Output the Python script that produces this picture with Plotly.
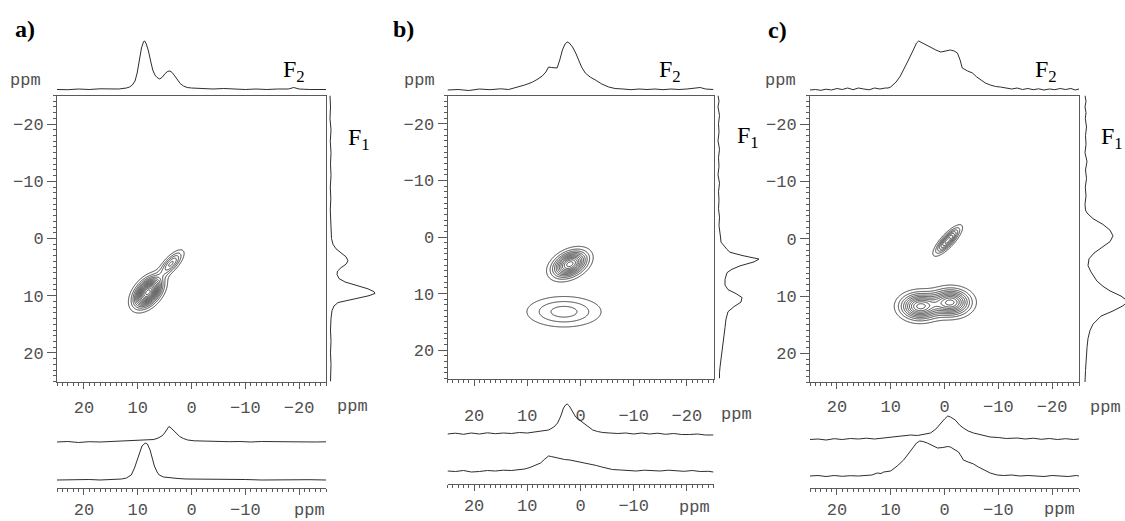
import numpy as np
import plotly.graph_objects as go

# ----------------------------------------------------------------- data
# 1-D traces, (ppm, intensity) pairs (arbitrary units)
a_top = [(25, 0.5), (23, 0.3), (21, 1), (19, 0.5), (17, 1.2), (15, 1.5), (13.5, 1), (12.1, 2),
         (11.5, 3), (11, 5), (10.5, 9), (10.1, 17), (9.7, 30), (9.3, 42), (8.9, 48.5), (8.7, 49),
         (8.4, 46), (8.0, 39), (7.6, 29), (7.2, 20), (6.8, 15), (6.4, 12.5), (5.9, 11), (5.4, 13),
         (4.9, 16.5), (4.4, 18.7), (4.0, 19), (3.6, 17.5), (3.1, 14), (2.6, 10), (2.1, 6.5),
         (1.5, 4), (0.8, 2.5), (0, 2), (-2, 1.5), (-4, 1), (-6, 1.5), (-8, 1), (-10, 0.5),
         (-12, 1), (-14, 0.5), (-16, 1), (-18, 1), (-19, 2.5), (-20, 1), (-22, 0.5), (-24, 1),
         (-25, 0.5)]
a_f1 = [(-25, 0), (-23, 0.5), (-21, 0), (-19, 1), (-17, 0.3), (-15, 1), (-13, 0.5), (-11, 1),
        (-9, 0.3), (-7, 0.8), (-5, 0.3), (-3, 1), (-1, 1), (0, 1.5), (1, 3), (1.8, 6), (2.5, 11),
        (3.2, 16), (3.9, 18), (4.5, 16), (5.1, 11), (5.7, 7.5), (6.3, 7), (7, 9), (7.6, 15),
        (8.2, 26), (8.8, 38), (9.3, 44), (9.6, 45), (10, 39), (10.4, 28), (10.8, 16), (11.2, 8),
        (11.8, 4), (12.6, 2), (14, 1), (16, 0.5), (18, 1), (20, 0.5), (22, 1), (24, 0.3), (25, 0.5)]
a_slice_upper = [(25, 0), (23, 0.5), (21, -0.5), (19, 0.3), (17, 0), (15, 0.5), (13, 0.3), (11, 1),
                 (9.5, 1.5), (8.2, 2), (7, 2.5), (6.2, 4), (5.5, 6), (5, 9), (4.6, 13), (4.2, 15.5),
                 (3.8, 14), (3.3, 11), (2.8, 8.5), (2.2, 5.5), (1.5, 3.5), (0.7, 2), (-0.5, 1.2),
                 (-1.5, 1), (-3, 0.5), (-5, 0.8), (-7, 0.3), (-9, 0.5), (-11, 0), (-13, 0.5),
                 (-15, 0.3), (-17, 0), (-19, 0.5), (-21, 0.2), (-23, 0), (-25, 0.2)]
a_slice_lower = [(25, 0), (23, 0.3), (21, 0), (19, 0.5), (17, 0), (15, 0.5), (13, 1), (12.1, 2),
                 (11.2, 5), (10.6, 12), (10.1, 20), (9.7, 28), (9.2, 34), (8.6, 37), (8.2, 36),
                 (7.7, 30), (7.3, 22), (6.9, 14), (6.4, 8), (6, 5), (5.2, 3), (4, 2), (2.5, 1.5),
                 (1, 1), (-1.5, 1), (-4, 0.5), (-7, 0.3), (-10, 0.5), (-13, 0), (-16, 0.3),
                 (-19, 0), (-22, 0.3), (-25, 0)]

b_top = [(25, 0), (23, 0.5), (21, -0.5), (19, 1), (17, 0.3), (15, 1.2), (13.5, 0.5), (12.3, 2),
         (11.3, 3.5), (10.5, 5), (9.7, 6.5), (9, 8), (8, 11), (7.2, 14), (6.5, 18), (6, 23),
         (5.5, 22.5), (5, 22), (4.4, 22), (3.9, 30), (3.4, 40), (2.9, 46), (2.5, 48), (2.1, 47),
         (1.5, 43), (0.9, 37), (0.4, 30), (-0.2, 23), (-0.9, 17), (-1.8, 13), (-2.8, 10),
         (-4, 6), (-5.3, 3), (-6.5, 1.5), (-8, 1), (-9.5, 0.3), (-11, 1), (-12.5, 0.5), (-14, 1),
         (-15.5, 0.3), (-17, 1), (-18.5, 0.5), (-20, 1), (-21.5, 1.5), (-22.5, 2.5),
         (-23.5, 1), (-25, 0.5)]
b_f1 = [(-25, 0), (-24, 1), (-23, 0), (-21.5, 1.5), (-20, 0.5), (-18.5, 1), (-17, 0),
        (-15.5, 1.5), (-14, 0.5), (-12.5, 1), (-11, 0), (-9.5, 1.5), (-8, 0.5), (-6.5, 1),
        (-5, 0.5), (-3.5, 1.5), (-2, 1), (-1, 2), (0, 2.5), (0.9, 3), (1.6, 6), (2.2, 9),
        (2.7, 12), (3.3, 25), (3.9, 41), (4.4, 36), (5.1, 22), (5.7, 14), (6.3, 9), (7.5, 7),
        (8.5, 7), (9.3, 10), (10, 18), (10.7, 24), (11.5, 23), (12.3, 16), (13.2, 10),
        (14.5, 8), (16, 7), (17.3, 6), (18.4, 5), (19.5, 4.5), (21, 3.5), (22, 2.5), (23, 2),
        (24, 1.5), (25, 1.5)]
b_slice_upper = [(25, 0), (23.5, 0.8), (22, -0.3), (20.5, 1), (19, 0), (17.5, 1.2), (16, 0.3),
                 (14.5, 1), (13, 0.5), (11.5, 1.5), (10, 1), (8.5, 2), (7.2, 3), (6, 4), (5, 7),
                 (4.3, 11), (3.7, 18), (3.2, 26), (2.8, 29), (2.5, 30), (2.1, 28), (1.6, 23),
                 (0.9, 17), (0.2, 14), (-0.6, 11), (-1.5, 7), (-2.3, 4), (-3.2, 2.5), (-4.2, 1.5),
                 (-5.5, 1), (-7, 0.5), (-8.5, 1), (-10, 0), (-11.5, 1), (-13, 0), (-14.5, 0.8),
                 (-16, -0.3), (-17.5, 0.5), (-19, -0.5), (-20.5, -0.5), (-22, 0), (-23.5, -1),
                 (-25, -1)]
b_slice_lower = [(25, 0), (23.5, -0.5), (22, 0.5), (20.5, -1), (19, -0.5), (17.5, 0.5), (16, 0),
                 (14.5, 0.8), (13, 0.5), (11.5, 1), (10.5, 2), (9.5, 3.5), (8.5, 5.5), (7.5, 8),
                 (6.7, 12), (6, 15), (5.5, 14.5), (4.8, 13.5), (4, 12.5), (3, 11.5), (2, 11),
                 (1, 10), (0, 9), (-1, 8), (-2, 7), (-3, 5.5), (-4, 4), (-5, 2.5), (-6, 1.5),
                 (-7.5, 1), (-9, 0.5), (-10.5, 0), (-12, 0.8), (-13.5, 0.3), (-15, 0),
                 (-16.5, 0.8), (-18, 0), (-19.5, -0.3), (-21, 0.5), (-22.5, -0.5), (-24, -0.3),
                 (-25, -1)]

c_top = [(25, 0), (24, 0.5), (23, -0.3), (22, 0.8), (21, 0), (20, 1.5), (19, 0.5), (18, 2),
         (17, 0.3), (16, 2), (15, 1), (14, 0.2), (13, 2), (12, 1), (11, 2), (10.5, 2), (10, 3),
         (9, 8), (8.2, 14), (7.6, 20), (6.7, 30), (5.8, 40), (5.2, 47), (4.8, 49), (4.3, 47.5),
         (3.8, 46), (3.2, 44), (2.6, 43), (1.6, 40), (0.7, 38), (-0.2, 39), (-1.1, 40),
         (-1.8, 39), (-2.4, 37), (-2.9, 30), (-3.3, 22), (-4.3, 19), (-5.2, 17), (-6, 13),
         (-6.7, 10), (-7.6, 7), (-8.5, 5), (-9.5, 3.5), (-10.4, 3), (-11.5, 2), (-12.5, 1),
         (-13.5, 2), (-14.5, 0.5), (-15.5, 1.5), (-16.5, 0.3), (-17.5, 1.2), (-18.5, 0),
         (-19.5, 1), (-20.5, 0.3), (-21.5, 1.5), (-22.5, 0.5), (-23.5, 1.5), (-24.3, 0),
         (-25, 1)]
c_f1 = [(-25, 0), (-24, 1), (-23, 0), (-22, 1), (-21, 0.3), (-19.5, 1.5), (-18, 0.5),
        (-16.5, 1), (-15, 0), (-13.5, 2), (-12, 0.5), (-10.5, 1.5), (-9, 0.3), (-7.5, 1),
        (-6, 0), (-5, 0.5), (-4.5, 2), (-3.5, 8), (-2.5, 18), (-1.5, 25), (-0.5, 28), (0.5, 25),
        (1.5, 17), (2.5, 9), (3.5, 4), (4.7, 3), (5.8, 6), (7.4, 12), (8.3, 18), (9.1, 25),
        (10, 36), (10.9, 43), (11.7, 38), (12.6, 28), (13.5, 16), (14.9, 8), (16, 5),
        (17.4, 3), (19, 2), (21, 1), (23, 0.5), (25, 0)]
c_slice_upper = [(25, -0.5), (23.5, 0), (22, -1), (20.5, 0.3), (19, -0.5), (17.5, 0.5), (16, 0),
                 (14.5, 0.8), (13, 0), (11.3, 1), (10, 2), (8.5, 2.5), (7.2, 3.5), (6.3, 4),
                 (5, 3.5), (3.8, 4.5), (2.6, 6), (1.6, 10), (0.7, 16), (0, 20), (-0.6, 23),
                 (-1.1, 22), (-2, 19), (-2.8, 14), (-3.5, 11), (-4.4, 8), (-5.4, 6), (-6.8, 4),
                 (-8.5, 2), (-10, 1.5), (-11.5, 0.5), (-13.5, 1), (-15, 0), (-16.5, 0.8),
                 (-18, -0.3), (-19.5, 0.5), (-21, -0.5), (-22.5, 0.3), (-24, -0.5), (-25, 0)]
c_slice_lower = [(25, 0), (23.5, 0.5), (22, -0.5), (20.5, 0.5), (19, -0.3), (17.5, 0.3), (16, 0),
                 (14.5, 0.5), (13.5, 1), (12.5, 3), (11.8, 2.5), (11.3, 4), (10, 5), (8.8, 10),
                 (7.6, 16), (6.6, 23), (5.8, 29), (5.2, 33), (4.6, 35), (4, 34.5), (3.2, 33),
                 (2.2, 30), (1.3, 28), (0.3, 28.5), (-0.6, 29.5), (-1.1, 29), (-1.8, 27),
                 (-2.6, 24), (-3.2, 19), (-3.5, 16), (-4.4, 14), (-5.4, 12), (-6.3, 9),
                 (-7.3, 6), (-8.5, 3), (-9.8, 1), (-11, 0.5), (-12.5, 1), (-14, 0), (-15.5, 0.5),
                 (-17, 0), (-18.5, -0.5), (-20, 0.5), (-21.5, 0), (-23, -0.5), (-24.5, 0.5),
                 (-25, 0)]

# 2-D cross peaks (F2 ppm, F1 ppm, tilt, widths, relative height)
a_peak_f2 = [8.1, 3.8]
a_peak_f1 = [9.4, 4.4]
a_peak_tilt = [45, 45]
a_peak_len = [1.9, 1.75]
a_peak_wid = [1.15, 0.7]
a_peak_amp = [1.0, 0.36]
a_peak_group = [0, 0]
a_group_levels = [14]

b_peak_f2 = [2.0, 3.1]
b_peak_f1 = [4.8, 13.2]
b_peak_tilt = [24, 0]
b_peak_len = [2.1, 4.4]
b_peak_wid = [1.25, 1.7]
b_peak_amp = [1.0, 1.0]
b_peak_group = [0, 1]
b_group_levels = [11, 3]

c_peak_f2 = [-0.6, 4.6, -1.2]
c_peak_f1 = [0.3, 11.8, 11.1]
c_peak_tilt = [45, 0, 0]
c_peak_len = [1.85, 2.2, 2.2]
c_peak_wid = [0.6, 1.4, 1.4]
c_peak_amp = [1.0, 1.0, 1.0]
c_peak_group = [0, 1, 1]
c_group_levels = [7, 10]

panel_labels = ["a)", "b)", "c)"]
axis_ticks = [20, 10, 0, -10, -20]
main_x_text = ["20", "10", "0", "\u221210", "\u221220"]
slice_x_text = ["20", "10", "0", "\u221210", ""]
y_ticks = [-20, -10, 0, 10, 20]
y_text = ["\u221220", "\u221210", "0", "10", "20"]

# ----------------------------------------------------------------- layout geometry (pixels)
W, H = 1125, 521
def PX(x): return x / W
def PY(y): return 1 - y / H

GEOM = [
    dict(box_x=(57, 326), box_y=(95.5, 381.5), f1_base=330, f1_w=48, slice_line=488,
         up_off=46, lo_off=8, xlab_standoff=4, lbl=(25, 29), f2=(294, 71), f1=(359, 139),
         ppm_top=(25.5, 80), ppm_main=(352.5, 406), ppm_slice=(309, 510)),
    dict(box_x=(447.5, 713.5), box_y=(95.5, 378.5), f1_base=718, f1_w=48, slice_line=484,
         up_off=50, lo_off=13, xlab_standoff=15, lbl=(403.5, 29), f2=(670, 71), f1=(748, 137),
         ppm_top=(419.5, 80), ppm_main=(736, 414), ppm_slice=(694.5, 507)),
    dict(box_x=(810, 1079), box_y=(95.5, 382), f1_base=1085, f1_w=40, slice_line=488,
         up_off=49, lo_off=12, xlab_standoff=3, lbl=(777.5, 30), f2=(1046, 71), f1=(1112, 138),
         ppm_top=(780, 80), ppm_main=(1105, 407), ppm_slice=(1059, 509)),
]

LINE = "#2e2e2e"
AXC = "#5a5a5a"
TICK_FONT = dict(family="Liberation Mono, Courier New, monospace", size=17, color="#505050")
SERIF = "Liberation Serif, Times New Roman, serif"

PANELS = [
    dict(top=a_top, f1=a_f1, up=a_slice_upper, lo=a_slice_lower,
         pk=(a_peak_f2, a_peak_f1, a_peak_tilt, a_peak_len, a_peak_wid, a_peak_amp, a_peak_group),
         lev=a_group_levels),
    dict(top=b_top, f1=b_f1, up=b_slice_upper, lo=b_slice_lower,
         pk=(b_peak_f2, b_peak_f1, b_peak_tilt, b_peak_len, b_peak_wid, b_peak_amp, b_peak_group),
         lev=b_group_levels),
    dict(top=c_top, f1=c_f1, up=c_slice_upper, lo=c_slice_lower,
         pk=(c_peak_f2, c_peak_f1, c_peak_tilt, c_peak_len, c_peak_wid, c_peak_amp, c_peak_group),
         lev=c_group_levels),
]


def cross_peak_contours(pk, levels, xa, ya):
    f2, f1, tilt, ln, wd, amp, grp = pk
    traces = []
    for g, n in enumerate(levels):
        idx = [i for i in range(len(f2)) if grp[i] == g]
        rout = np.sqrt(2 * np.log(n + 0.5))
        ext = [rout * max(ln[i], wd[i]) + 1.5 for i in idx]
        x0 = min(f2[i] - e for i, e in zip(idx, ext))
        x1 = max(f2[i] + e for i, e in zip(idx, ext))
        y0 = min(f1[i] - e for i, e in zip(idx, ext))
        y1 = max(f1[i] + e for i, e in zip(idx, ext))
        gx = np.arange(x0, x1 + 0.05, 0.1)
        gy = np.arange(y0, y1 + 0.05, 0.1)
        X, Y = np.meshgrid(gx, gy)
        Z = np.zeros_like(X)
        for i in idx:
            t = np.radians(tilt[i])
            dx, dy = X - f2[i], Y - f1[i]
            u = dx * np.cos(t) + dy * np.sin(t)
            v = -dx * np.sin(t) + dy * np.cos(t)
            Z += amp[i] * np.exp(-((u / ln[i]) ** 2 + (v / wd[i]) ** 2) / 2)
        Z /= Z.max()
        step = 1.0 / (n + 0.5)
        traces.append(go.Contour(
            x=np.round(gx, 2), y=np.round(gy, 2), z=np.round(Z, 4),
            autocontour=False,
            contours=dict(coloring="lines", start=step, end=n * step + 1e-6, size=step),
            colorscale=[[0, LINE], [1, LINE]], showscale=False,
            line=dict(width=0.9, smoothing=0.8), hoverinfo="skip",
            xaxis=xa, yaxis=ya))
    return traces


fig = go.Figure()
layout = dict(width=W, height=H, margin=dict(l=0, r=0, t=0, b=0, pad=0),
              paper_bgcolor="white", plot_bgcolor="rgba(0,0,0,0)", showlegend=False)
annotations = []

def ax_name(kind, i):
    return f"{kind}axis" if i == 1 else f"{kind}axis{i}"

def ax_ref(kind, i):
    return kind if i == 1 else f"{kind}{i}"

minor_x = dict(tickmode="linear", tick0=0, dtick=1, ticks="outside", ticklen=3,
               tickcolor=AXC, tickwidth=1)
SLICE_SPAN = 90

for p, (d, g) in enumerate(zip(PANELS, GEOM)):
    m, t, r, s = 4 * p + 1, 4 * p + 2, 4 * p + 3, 4 * p + 4
    xdom = [PX(g["box_x"][0]), PX(g["box_x"][1])]
    ydom = [PY(g["box_y"][1]), PY(g["box_y"][0])]

    # main 2-D box
    layout[ax_name("x", m)] = dict(
        domain=xdom, range=[25, -25], anchor=ax_ref("y", m), showline=True, mirror=True,
        linecolor=AXC, linewidth=1, ticks="outside", ticklen=6, tickcolor=AXC,
        tickmode="array", tickvals=axis_ticks, ticktext=main_x_text, minor=minor_x,
        tickfont=TICK_FONT, showgrid=False, zeroline=False, automargin=False,
        ticklabelstandoff=g["xlab_standoff"])
    layout[ax_name("y", m)] = dict(
        domain=ydom, range=[25, -25], anchor=ax_ref("x", m), showline=True, mirror=True,
        linecolor=AXC, linewidth=1, ticks="outside", ticklen=9, tickcolor=AXC,
        tickmode="array", tickvals=y_ticks, ticktext=y_text, automargin=False,
        minor=dict(tickmode="linear", tick0=0, dtick=1, ticks="outside", ticklen=3,
                   tickcolor=AXC, tickwidth=1),
        tickfont=TICK_FONT, showgrid=False, zeroline=False)

    # top F2 projection
    layout[ax_name("x", t)] = dict(domain=xdom, range=[25, -25], visible=False,
                                   anchor=ax_ref("y", t))
    layout[ax_name("y", t)] = dict(domain=[PY(95), PY(35)], range=[-5, 55], visible=False,
                                   anchor=ax_ref("x", t))
    # right F1 projection
    fb = g["f1_base"]
    layout[ax_name("x", r)] = dict(domain=[PX(fb - 2), min(1.0, PX(fb + g["f1_w"]))],
                                   range=[-2, g["f1_w"]], visible=False, anchor=ax_ref("y", r))
    layout[ax_name("y", r)] = dict(domain=ydom, range=[25, -25], visible=False,
                                   anchor=ax_ref("x", r))
    # slices with their own ppm axis
    sl = g["slice_line"]
    layout[ax_name("x", s)] = dict(
        domain=xdom, range=[25, -25], anchor=ax_ref("y", s), showline=True,
        linecolor=AXC, linewidth=1, ticks="outside", ticklen=6, tickcolor=AXC,
        tickmode="array", tickvals=axis_ticks, ticktext=slice_x_text, minor=minor_x,
        tickfont=TICK_FONT, showgrid=False, zeroline=False, automargin=False,
        ticklabelstandoff=0)
    layout[ax_name("y", s)] = dict(domain=[PY(sl), PY(sl - SLICE_SPAN)], range=[0, SLICE_SPAN],
                                   visible=False, anchor=ax_ref("x", s))

    # traces
    for tr in cross_peak_contours(d["pk"], d["lev"], ax_ref("x", m), ax_ref("y", m)):
        fig.add_trace(tr)
    fig.add_trace(go.Scatter(x=[q[0] for q in d["top"]], y=[q[1] for q in d["top"]],
                             mode="lines", line=dict(color=LINE, width=1),
                             xaxis=ax_ref("x", t), yaxis=ax_ref("y", t), hoverinfo="skip"))
    fig.add_trace(go.Scatter(x=[q[1] for q in d["f1"]], y=[q[0] for q in d["f1"]],
                             mode="lines", line=dict(color=LINE, width=1),
                             xaxis=ax_ref("x", r), yaxis=ax_ref("y", r), hoverinfo="skip"))
    for key, off in (("up", g["up_off"]), ("lo", g["lo_off"])):
        fig.add_trace(go.Scatter(x=[q[0] for q in d[key]], y=[q[1] + off for q in d[key]],
                                 mode="lines", line=dict(color=LINE, width=1),
                                 xaxis=ax_ref("x", s), yaxis=ax_ref("y", s), hoverinfo="skip"))

    # text
    def ann(xy, text, font):
        annotations.append(dict(x=PX(xy[0]), y=PY(xy[1]), xref="paper", yref="paper",
                                text=text, showarrow=False, xanchor="center",
                                yanchor="middle", font=font))
    ann(g["lbl"], f"<b>{panel_labels[p]}</b>", dict(family=SERIF, size=24, color="black"))
    ann(g["f2"], "F<sub>2</sub>", dict(family=SERIF, size=24, color="black"))
    ann(g["f1"], "F<sub>1</sub>", dict(family=SERIF, size=24, color="black"))
    for k in ("ppm_top", "ppm_main", "ppm_slice"):
        ann(g[k], "ppm", TICK_FONT)

layout["annotations"] = annotations
fig.update_layout(**layout)
fig.write_html("out.html", config={"displayModeBar": False},
               post_script="document.body.style.margin='0';document.body.style.overflow='hidden';")
